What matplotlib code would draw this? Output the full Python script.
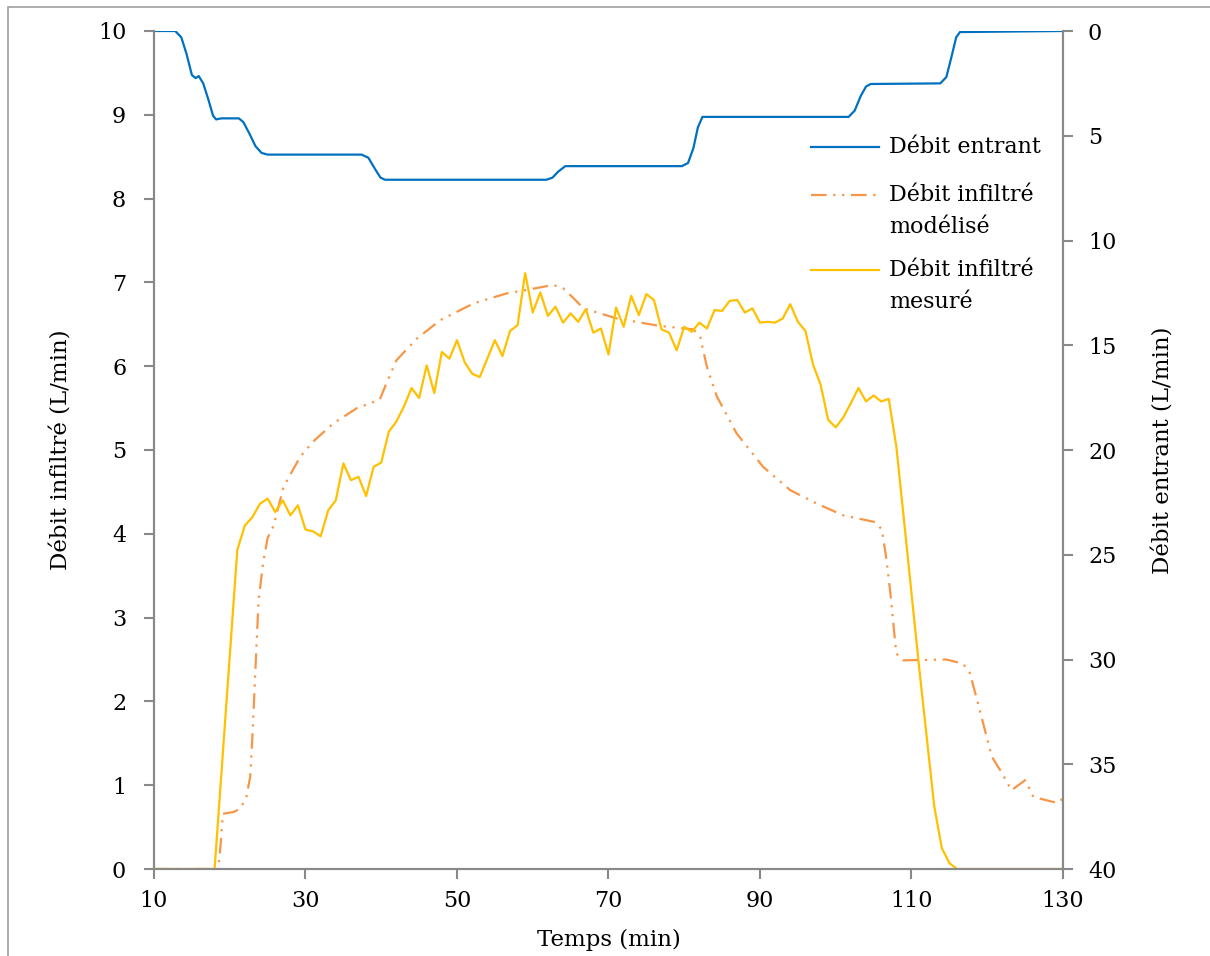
import matplotlib.pyplot as plt
from matplotlib.patches import Rectangle

# Débit entrant (axe droit, inversé)
t_entrant = [10, 12.8, 13.6, 14.3, 15.0, 15.5, 15.9, 16.5, 17.2, 17.8, 18.2, 18.9, 21.2, 21.8, 22.6, 23.4, 24.2, 25.0,
             37.4, 38.3, 39.2, 39.9, 40.5, 61.8, 62.6, 63.4, 64.3, 79.7, 80.5, 81.2, 81.8, 82.4, 101.7, 102.5,
             103.3, 104.0, 104.6, 113.8, 114.6, 115.3, 115.9, 116.4, 130]
q_entrant = [0, 0, 0.3, 1.1, 2.1, 2.25, 2.15, 2.5, 3.3, 4.05, 4.22, 4.17, 4.17, 4.35, 4.9, 5.5, 5.82, 5.9,
             5.9, 6.05, 6.6, 7.0, 7.1, 7.1, 7.0, 6.7, 6.45, 6.45, 6.3, 5.6, 4.6, 4.1, 4.1, 3.8,
             3.1, 2.65, 2.53, 2.5, 2.2, 1.2, 0.3, 0.05, 0]

# Débit infiltré modélisé
t_modele = [10, 18.5, 18.8, 19.1, 20.5, 21.4, 22.2, 22.7, 23.0, 23.3, 23.8, 24.4, 25.0, 25.8, 27.1, 29.3, 31.0, 33.7,
            36.8, 39.8, 40.7, 42.0, 44.7, 47.8, 52.2, 56.6, 59.2, 62.7, 64.0, 65.4, 66.7, 68.9, 71.1, 76.8,
            81.2, 82.1, 83.0, 84.3, 86.9, 90.4, 94.0, 97.5, 101.0, 105.2, 106.1, 106.7, 107.2, 107.6, 108.0,
            108.9, 114.6, 116.8, 117.7, 119.0, 120.6, 121.7, 123.2, 125.0, 126.1, 128.7, 129.6, 130]
q_modele = [0, 0, 0.3, 0.66, 0.68, 0.72, 0.86, 1.1, 1.6, 2.2, 3.2, 3.65, 3.95, 4.1, 4.56, 4.92, 5.1, 5.32,
            5.5, 5.6, 5.8, 6.07, 6.33, 6.55, 6.75, 6.87, 6.91, 6.97, 6.93, 6.81, 6.69, 6.63, 6.57, 6.48,
            6.44, 6.35, 5.99, 5.64, 5.2, 4.8, 4.52, 4.36, 4.22, 4.14, 4.05, 3.69, 3.3, 2.93, 2.57,
            2.49, 2.5, 2.45, 2.34, 1.9, 1.34, 1.18, 0.94, 1.06, 0.86, 0.80, 0.80, 0.86]

# Débit infiltré mesuré
t_mesure = [10, 12, 14, 16, 18, 21, 22, 23, 24, 25, 26, 27, 28, 29, 30, 31, 32, 33, 34, 35, 36, 37, 38, 39, 40,
            41, 42, 43, 44, 45, 46, 47, 48, 49, 50, 51, 52, 53, 54, 55, 56, 57, 58, 59, 60, 61, 62, 63, 64, 65,
            66, 67, 68, 69, 70, 71, 72, 73, 74, 75, 76, 77, 78, 79, 80, 81, 82, 83, 84, 85, 86, 87, 88, 89, 90,
            91, 92, 93, 94, 95, 96, 97, 98, 99, 100, 101, 102, 103, 104, 105, 106, 107, 108, 109, 110, 111, 112,
            113, 114, 115, 116, 118, 120, 122, 124, 126, 128, 130]
q_mesure = [0, 0, 0, 0, 0, 3.81, 4.10, 4.20, 4.36, 4.42, 4.26, 4.40, 4.22, 4.34, 4.05, 4.03, 3.97, 4.28, 4.40,
            4.84, 4.64, 4.68, 4.45, 4.80, 4.85, 5.22, 5.34, 5.52, 5.74, 5.62, 6.01, 5.68, 6.17, 6.09, 6.31, 6.05,
            5.91, 5.87, 6.09, 6.31, 6.12, 6.42, 6.49, 7.11, 6.64, 6.88, 6.60, 6.71, 6.52, 6.63, 6.53, 6.68,
            6.40, 6.45, 6.14, 6.70, 6.47, 6.84, 6.61, 6.86, 6.79, 6.44, 6.40, 6.19, 6.47, 6.41, 6.52, 6.45,
            6.67, 6.66, 6.78, 6.79, 6.64, 6.69, 6.52, 6.53, 6.52, 6.57, 6.74, 6.53, 6.42, 6.02, 5.78, 5.36,
            5.27, 5.39, 5.56, 5.74, 5.58, 5.65, 5.58, 5.61, 5.04, 4.17, 3.29, 2.41, 1.58, 0.75, 0.25, 0.07,
            0, 0, 0, 0, 0, 0, 0, 0]

xticks = [10, 30, 50, 70, 90, 110, 130]
gris = '#898989'
bleu, orange, jaune = '#0070C0', '#F79646', '#FFC000'
tiret_point = (7, 3, 1, 3, 1, 3)

plt.rcParams['font.family'] = 'DejaVu Serif'
fig = plt.figure(figsize=(12.1, 9.56), dpi=100)
ax = fig.add_axes([154/1210, 1 - 869/956, (1063-154)/1210, (869-31)/956])
ax2 = ax.twinx()

ax2.plot(t_entrant, q_entrant, color=bleu, lw=1.6)
ax.plot(t_modele, q_modele, color=orange, lw=1.6, dashes=tiret_point)
ax.plot(t_mesure, q_mesure, color=jaune, lw=1.6)

ax.set_xlim(10, 130)
ax.set_ylim(0, 10)
ax2.set_ylim(40, 0)
ax.set_xticks(xticks)
ax.set_yticks(range(0, 11))
ax2.set_yticks(range(0, 41, 5))

for a in (ax, ax2):
    a.spines['top'].set_visible(False)
    for s in ('left', 'right', 'bottom'):
        a.spines[s].set_color(gris)
        a.spines[s].set_linewidth(1.5)
    a.tick_params(colors=gris, labelcolor='black', labelsize=16, width=1.5, length=7)
ax.tick_params(axis='x', pad=8)
ax.tick_params(axis='y', pad=13)
ax2.tick_params(axis='y', pad=11)

ax.set_xlabel('Temps (min)', fontsize=16.5)
ax.set_ylabel('Débit infiltré (L/min)', fontsize=16.5)
ax2.set_ylabel('Débit entrant (L/min)', fontsize=16.5)
ax.xaxis.set_label_coords(0.5, -0.0716)
ax.yaxis.set_label_coords(-0.090, 0.5)
ax2.yaxis.set_label_coords(1.099, 0.5)

# légende : trait aligné sur la première ligne du libellé
legende = [(bleu, None, ['Débit entrant'], 0.862),
           (orange, tiret_point, ['Débit infiltré', 'modélisé'], 0.804),
           (jaune, None, ['Débit infiltré', 'mesuré'], 0.715)]
for couleur, style, lignes, y in legende:
    kw = {'dashes': style} if style else {}
    ax.plot([0.723, 0.798], [y, y], transform=ax.transAxes, color=couleur, lw=1.6, **kw)
    for i, txt in enumerate(lignes):
        ax.text(0.809, y - i * 0.038, txt, transform=ax.transAxes, fontsize=16,
                va='center', ha='left')

fig.patches.append(Rectangle((8/1210, -0.1), 1.2, 1 - 7/956 + 0.1, transform=fig.transFigure,
                             fill=False, edgecolor='#a0a0a0', lw=1.2))

fig.savefig('out.png', dpi=100)
